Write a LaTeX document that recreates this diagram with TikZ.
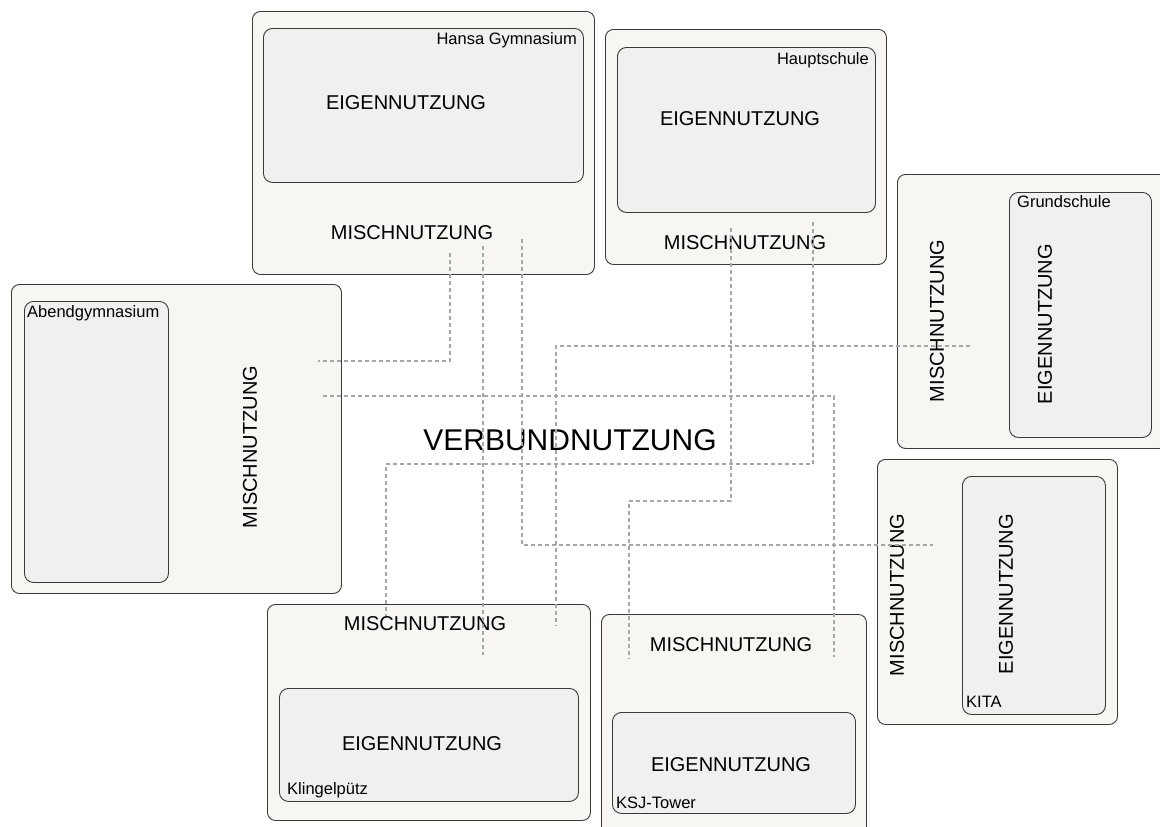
\documentclass[tikz,border=0pt]{standalone}
\usepackage{fontspec}
\setmainfont{Liberation Sans}
\definecolor{outerfill}{HTML}{F7F6F3}
\definecolor{innerfill}{HTML}{F1F0EE}
\definecolor{edge}{HTML}{3A3A3A}
\definecolor{link}{HTML}{A2A7AB}
\tikzset{
  outerbox/.style={draw=edge, fill=outerfill, line width=0.9pt, rounded corners=8pt, inner sep=0pt, anchor=north west},
  innerbox/.style={draw=edge, fill=innerfill, line width=0.9pt, rounded corners=9pt, inner sep=0pt, anchor=north west},
  big/.style={inner sep=0pt, font=\fontsize{20}{24}\selectfont, text=black},
  huge/.style={inner sep=0pt, font=\fontsize{30}{36}\selectfont, text=black},
  small/.style={inner sep=0pt, font=\fontsize{16.5}{19}\selectfont, text=black},
  linkline/.style={draw=link, line width=2.2pt, dash pattern=on 4pt off 3pt}
}
\begin{document}
\begin{tikzpicture}[x=1pt, y=-1pt]
\useasboundingbox (0,0) rectangle (1160,827);
\clip (0,0) rectangle (1160,827);
% Hansa Gymnasium
\node[outerbox, minimum width=342pt, minimum height=263pt] (hansa) at (252,11) {};
\node[innerbox, minimum width=320pt, minimum height=154pt] (hansaIn) at (263,28) {};
\node[small, anchor=base east] (hansaLbl) at (577,44) {Hansa Gymnasium};
\node[big] (hansaE) at (406,103) {EIGENNUTZUNG};
\node[big] (hansaM) at (412,233) {MISCHNUTZUNG};
% Hauptschule
\node[outerbox, minimum width=281pt, minimum height=235pt] (haupt) at (605,29) {};
\node[innerbox, minimum width=258pt, minimum height=165pt] (hauptIn) at (617,47) {};
\node[small, anchor=base east] (hauptLbl) at (869,64) {Hauptschule};
\node[big] (hauptE) at (740,119) {EIGENNUTZUNG};
\node[big] (hauptM) at (745,243) {MISCHNUTZUNG};
% Grundschule
\node[outerbox, minimum width=270pt, minimum height=274pt] (grund) at (897,174) {};
\node[innerbox, minimum width=142pt, minimum height=245pt] (grundIn) at (1009,192) {};
\node[small, anchor=base west] (grundLbl) at (1017,207) {Grundschule};
\node[big, rotate=90] (grundM) at (937,321) {MISCHNUTZUNG};
\node[big, rotate=90] (grundE) at (1045,324) {EIGENNUTZUNG};
% Abendgymnasium
\node[outerbox, minimum width=330pt, minimum height=309pt] (abend) at (11,284) {};
\node[innerbox, minimum width=144pt, minimum height=281pt] (abendIn) at (24,301) {};
\node[small, anchor=base west] (abendLbl) at (27,317) {Abendgymnasium};
\node[big, rotate=90] (abendM) at (250,447) {MISCHNUTZUNG};
% KITA
\node[outerbox, minimum width=240pt, minimum height=265pt] (kita) at (877,459) {};
\node[innerbox, minimum width=143pt, minimum height=238pt] (kitaIn) at (962,476) {};
\node[small, anchor=base west] (kitaLbl) at (966,707) {KITA};
\node[big, rotate=90] (kitaM) at (897,595) {MISCHNUTZUNG};
\node[big, rotate=90] (kitaE) at (1006,594) {EIGENNUTZUNG};
% Klingelpuetz
\node[outerbox, minimum width=323pt, minimum height=216pt] (kling) at (267,604) {};
\node[innerbox, minimum width=299pt, minimum height=113pt] (klingIn) at (279,688) {};
\node[small, anchor=base west] (klingLbl) at (287,794) {Klingelpütz};
\node[big] (klingM) at (425,624) {MISCHNUTZUNG};
\node[big] (klingE) at (422,744) {EIGENNUTZUNG};
% KSJ-Tower
\node[outerbox, minimum width=265pt, minimum height=230pt] (ksj) at (601,614) {};
\node[innerbox, minimum width=243pt, minimum height=101pt] (ksjIn) at (612,712) {};
\node[small, anchor=base west] (ksjLbl) at (616,808) {KSJ-Tower};
\node[big] (ksjM) at (731,645) {MISCHNUTZUNG};
\node[big] (ksjE) at (731,765) {EIGENNUTZUNG};
% centre
\node[huge] (verbund) at (570,440) {VERBUNDNUTZUNG};
% link end points
\coordinate (h1) at (450,253);
\coordinate (a1) at (318,361);
\coordinate (h2) at (483,246);
\coordinate (k2) at (483,655);
\coordinate (h3) at (522,239);
\coordinate (t3) at (933,545);
\coordinate (p4) at (731,228);
\coordinate (b4) at (731,501);
\coordinate (s4) at (629,659);
\coordinate (g5) at (970,346);
\coordinate (k5) at (556,626);
\coordinate (a6) at (323,396);
\coordinate (s6) at (834,657);
\coordinate (p7) at (813,222);
\coordinate (b7) at (813,464);
\coordinate (k7) at (386,616);
% links
\draw[linkline] (h1) |- (a1);
\draw[linkline] (h2) -- (k2);
\draw[linkline] (h3) |- (t3);
\draw[linkline] (p4) -- (b4) -| (s4);
\draw[linkline] (g5) -| (k5);
\draw[linkline] (a6) -| (s6);
\draw[linkline] (p7) -- (b7) -| (k7);
\end{tikzpicture}
\end{document}
